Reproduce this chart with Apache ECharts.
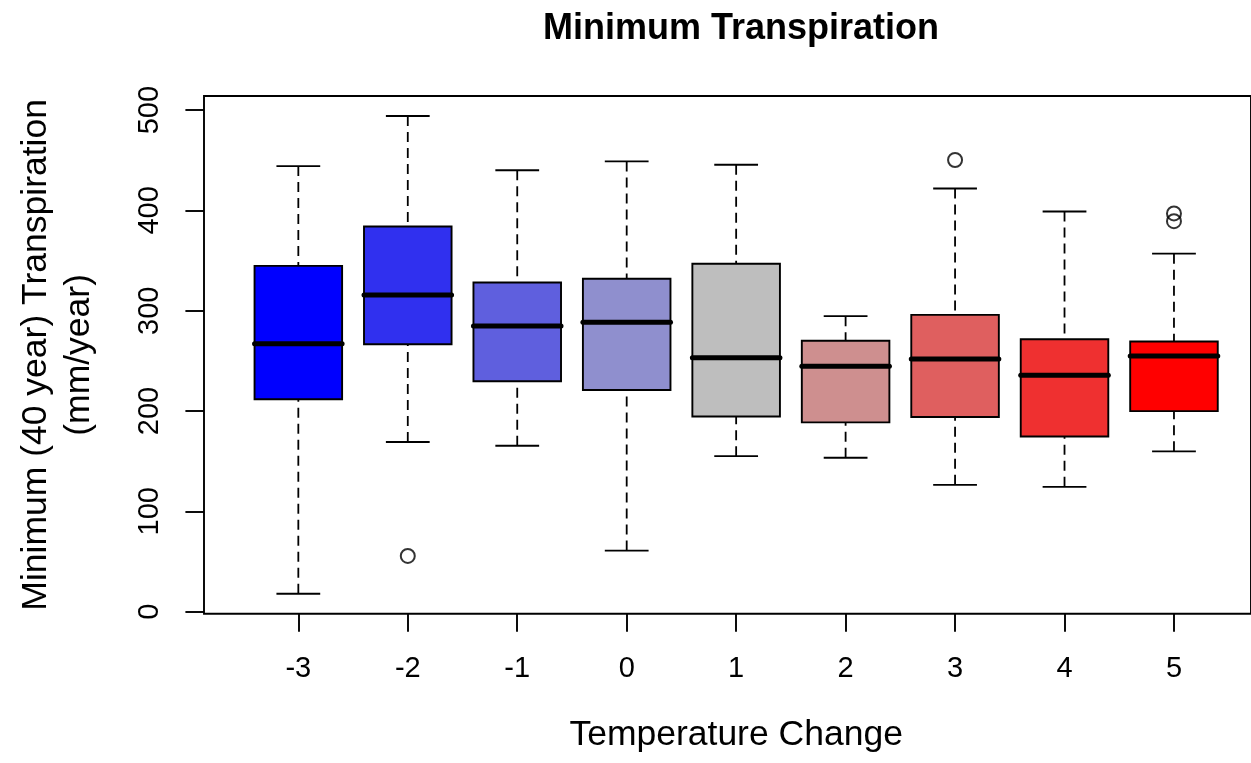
<!DOCTYPE html>
<html>
<head>
<meta charset="utf-8">
<title>Minimum Transpiration</title>
<script src="https://cdn.jsdelivr.net/npm/echarts@6/dist/echarts.min.js"></script>
<style>
  html, body { margin: 0; padding: 0; background: #fff; }
  #chart { width: 1251px; height: 763px; }
</style>
</head>
<body>
<div id="chart"></div>
<script>
// Temperature change scenarios (x categories)
const categories = ['-3', '-2', '-1', '0', '1', '2', '3', '4', '5'];

// Five-number summaries per scenario (mm/year)
const whiskerLow  = [17.8, 169.1, 165.4, 60.8, 155.0, 153.4, 126.4, 124.4, 159.8];
const lowerQuart  = [211.8, 266.6, 229.7, 220.9, 194.5, 188.7, 194.1, 174.6, 199.9];
const medians     = [267.0, 315.7, 284.8, 288.5, 253.1, 244.7, 251.8, 235.6, 254.8];
const upperQuart  = [344.7, 384.0, 328.2, 331.9, 346.8, 270.0, 295.9, 271.6, 269.3];
const whiskerHigh = [444.2, 494.2, 440.1, 448.9, 445.5, 294.6, 421.9, 399.0, 356.9];

// Outliers as [category index, value]
const outliers = [[1, 55.5], [6, 450.3], [8, 397.0], [8, 389.3]];

// Box fills: blue -> grey -> red ramp
const boxColors = ['#0000FF', '#3030EF', '#5F5FDE', '#8F8FCE', '#BEBEBE',
                   '#CE8F8F', '#DF5F5F', '#EF3030', '#FF0000'];

// Y tick values and the padded value range of the plot frame
const yTicks = [0, 100, 200, 300, 400, 500];
const yMin = -2.1;
const yMax = 514.1;

const boxRows = categories.map((c, i) =>
  [i, whiskerLow[i], lowerQuart[i], medians[i], upperQuart[i], whiskerHigh[i]]);

const FONT = "'Liberation Sans', Arial, Helvetica, sans-serif";
const chart = echarts.init(document.getElementById('chart'), null, { renderer: 'canvas' });

function renderBox(params, api) {
  const i = api.value(0);
  const band = api.size([1, 0])[0];
  const half = band * 0.4;
  const staple = band * 0.2;
  const pLow = api.coord([i, api.value(1)]);
  const pQ1 = api.coord([i, api.value(2)]);
  const pMed = api.coord([i, api.value(3)]);
  const pQ3 = api.coord([i, api.value(4)]);
  const pHigh = api.coord([i, api.value(5)]);
  const x = pMed[0];
  const whiskerStyle = { stroke: '#000', lineWidth: 1.8, lineDash: [10, 6] };
  const solid = { stroke: '#000', lineWidth: 1.9 };
  return {
    type: 'group',
    children: [
      { type: 'line', shape: { x1: x, y1: pLow[1], x2: x, y2: pQ1[1] }, style: whiskerStyle },
      { type: 'line', shape: { x1: x, y1: pHigh[1], x2: x, y2: pQ3[1] }, style: whiskerStyle },
      { type: 'line', shape: { x1: x - staple, y1: pLow[1], x2: x + staple, y2: pLow[1] }, style: solid },
      { type: 'line', shape: { x1: x - staple, y1: pHigh[1], x2: x + staple, y2: pHigh[1] }, style: solid },
      { type: 'rect', shape: { x: x - half, y: pQ3[1], width: half * 2, height: pQ1[1] - pQ3[1] },
        style: { fill: boxColors[params.dataIndex], stroke: '#000', lineWidth: 1.9 } },
      { type: 'line', shape: { x1: x - half, y1: pMed[1], x2: x + half, y2: pMed[1] },
        style: { stroke: '#000', lineWidth: 5, lineCap: 'round' } }
    ]
  };
}

const option = {
  animation: false,
  backgroundColor: '#fff',
  title: {
    text: 'Minimum Transpiration',
    left: 736,
    top: 6,
    textAlign: 'center',
    textStyle: { fontFamily: FONT, fontSize: 36, fontWeight: 'bold', color: '#000' }
  },
  grid: [
    // plot frame (extends past the right edge)
    { left: 204, top: 96, width: 1064, height: 517.7, show: true,
      borderColor: '#000', borderWidth: 1.9, backgroundColor: 'transparent' },
    // category band area for the boxes
    { left: 243.6, top: 96, width: 985.1, height: 517.7 }
  ],
  xAxis: [
    { gridIndex: 0, type: 'value', min: 0, max: 1, show: false },
    {
      gridIndex: 1,
      type: 'category',
      data: categories,
      boundaryGap: true,
      name: 'Temperature Change',
      nameLocation: 'middle',
      nameGap: 104,
      nameTextStyle: { fontFamily: FONT, fontSize: 35.5, color: '#000' },
      axisLine: { show: false, onZero: false },
      axisTick: { show: true, alignWithLabel: true, length: 18, lineStyle: { color: '#000', width: 1.9 } },
      axisLabel: { fontFamily: FONT, fontSize: 29, color: '#000', margin: 41 },
      splitLine: { show: false }
    }
  ],
  yAxis: [
    {
      gridIndex: 0,
      type: 'value',
      min: yMin,
      max: yMax,
      name: 'Minimum (40 year) Transpiration\n(mm/year)',
      nameLocation: 'middle',
      nameRotate: 90,
      nameGap: 103,
      nameTextStyle: { fontFamily: FONT, fontSize: 35.5, color: '#000', lineHeight: 43, align: 'center' },
      axisLine: { show: false },
      axisTick: { show: true, length: 18.6, customValues: yTicks, lineStyle: { color: '#000', width: 1.9 } },
      axisLabel: { fontFamily: FONT, fontSize: 29, color: '#000', rotate: 90, margin: 39.5, customValues: yTicks },
      splitLine: { show: false }
    },
    { gridIndex: 1, type: 'value', min: yMin, max: yMax, show: false }
  ],
  series: [
    {
      type: 'custom',
      xAxisIndex: 1,
      yAxisIndex: 1,
      data: boxRows,
      encode: { x: 0, y: [1, 2, 3, 4, 5] },
      renderItem: renderBox,
      silent: true
    },
    {
      type: 'scatter',
      xAxisIndex: 1,
      yAxisIndex: 1,
      data: outliers,
      symbol: 'circle',
      symbolSize: 14,
      silent: true,
      itemStyle: { color: 'rgba(0,0,0,0)', borderColor: '#000', borderWidth: 2 }
    }
  ]
};

chart.setOption(option);
</script>
</body>
</html>
